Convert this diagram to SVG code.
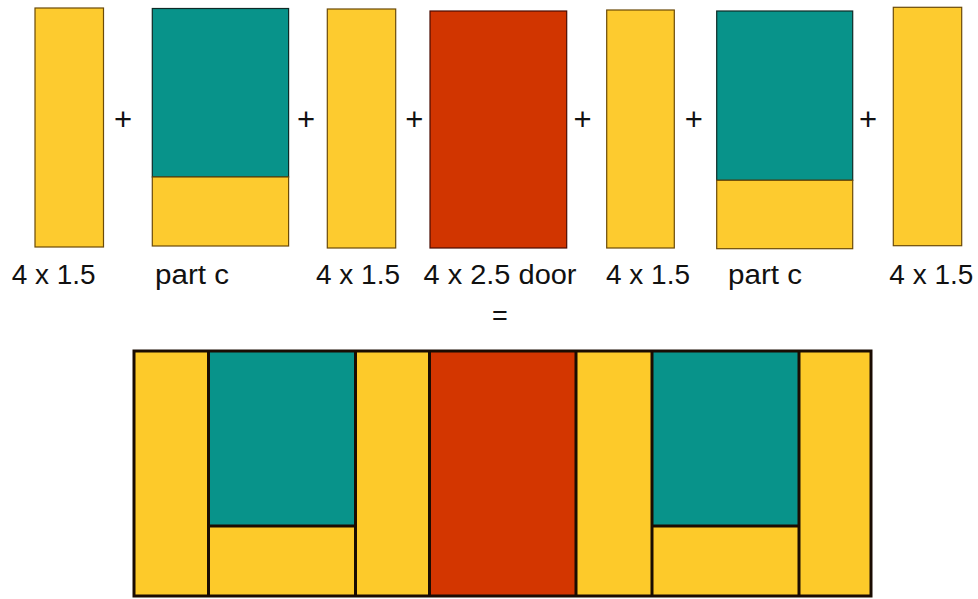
<svg xmlns="http://www.w3.org/2000/svg" width="978" height="599" viewBox="0 0 978 599">
<style>
.y{fill:#FDCB2F;stroke:#6B4A08;stroke-width:1.2}
.t{fill:#08938A;stroke:#0E2A26;stroke-width:1.2}
.r{fill:#D13500;stroke:#4A0A00;stroke-width:1.2}
.lbl{font-family:"Liberation Sans",Arial,sans-serif;font-size:27px;fill:#111;text-anchor:middle}
.op{font-family:"Liberation Sans",Arial,sans-serif;font-size:31px;fill:#111;text-anchor:middle}
.by{fill:#FDCA2A}
.bt{fill:#08938A}
.br{fill:#D33600}
.ln{stroke:#1A0C02;stroke-width:3;fill:none}
</style>
<rect width="978" height="599" fill="#fff"/>
<g id="piece1">
<rect class="y" x="35" y="8" width="68.5" height="239"/>
<text class="lbl" x="53.7" y="284" textLength="84" lengthAdjust="spacingAndGlyphs">4 x 1.5</text>
</g>
<g id="piece2">
<rect class="t" x="152.3" y="8.5" width="136.3" height="168.5"/>
<rect class="y" x="152.3" y="177" width="136.3" height="69"/>
<text class="lbl" x="192" y="284" textLength="74" lengthAdjust="spacingAndGlyphs">part c</text>
</g>
<g id="piece3">
<rect class="y" x="327.3" y="9" width="68.4" height="239"/>
<text class="lbl" x="358" y="284" textLength="84" lengthAdjust="spacingAndGlyphs">4 x 1.5</text>
</g>
<g id="piece4">
<rect class="r" x="430" y="11" width="136.7" height="237"/>
<text class="lbl" x="500" y="284" textLength="153" lengthAdjust="spacingAndGlyphs">4 x 2.5 door</text>
</g>
<g id="piece5">
<rect class="y" x="606.7" y="10" width="67.6" height="238"/>
<text class="lbl" x="648" y="284" textLength="84" lengthAdjust="spacingAndGlyphs">4 x 1.5</text>
</g>
<g id="piece6">
<rect class="t" x="716.7" y="11" width="136" height="169.3"/>
<rect class="y" x="716.7" y="180.3" width="136" height="68.4"/>
<text class="lbl" x="765" y="284" textLength="74" lengthAdjust="spacingAndGlyphs">part c</text>
</g>
<g id="piece7">
<rect class="y" x="893.3" y="7.3" width="68.4" height="238.4"/>
<text class="lbl" x="931.3" y="284" textLength="84" lengthAdjust="spacingAndGlyphs">4 x 1.5</text>
</g>
<g id="operators">
<text class="op" x="123" y="130">+</text>
<text class="op" x="306" y="130">+</text>
<text class="op" x="414.4" y="130">+</text>
<text class="op" x="582.5" y="130">+</text>
<text class="op" x="693.7" y="130">+</text>
<text class="op" x="868" y="130">+</text>
<text class="lbl" x="500" y="325">=</text>
</g>
<g id="result">
<rect class="by" x="134" y="351" width="737" height="245"/>
<rect class="bt" x="208.5" y="351" width="147" height="175"/>
<rect class="br" x="429.5" y="351" width="146.5" height="245"/>
<rect class="bt" x="652" y="351" width="147" height="175"/>
<line class="ln" x1="208.5" y1="351" x2="208.5" y2="596"/>
<line class="ln" x1="355.5" y1="351" x2="355.5" y2="596"/>
<line class="ln" x1="429.5" y1="351" x2="429.5" y2="596" stroke-width="4"/>
<line class="ln" x1="576" y1="351" x2="576" y2="596"/>
<line class="ln" x1="652" y1="351" x2="652" y2="596"/>
<line class="ln" x1="799" y1="351" x2="799" y2="596"/>
<line class="ln" x1="208.5" y1="526" x2="355.5" y2="526"/>
<line class="ln" x1="652" y1="526" x2="799" y2="526"/>
<rect class="ln" x="134" y="351" width="737" height="245"/>
</g>
</svg>
